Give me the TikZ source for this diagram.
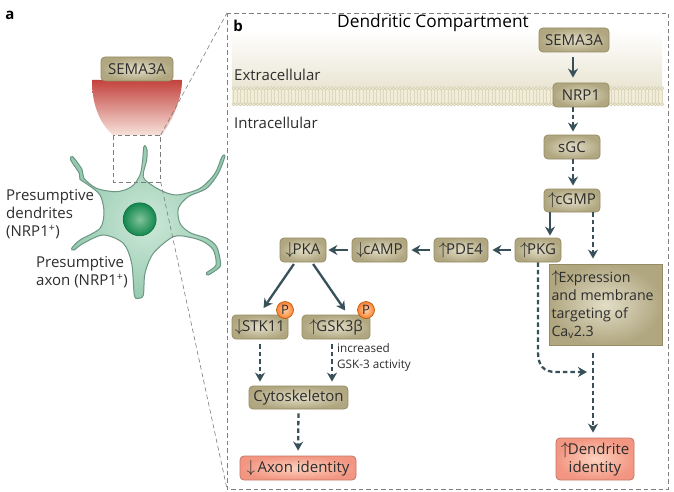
\documentclass[tikz,border=0pt]{standalone}
\usepackage{fontspec}
\setmainfont{Open Sans}
\usetikzlibrary{arrows.meta,shadings}
\definecolor{linkcol}{RGB}{55,80,90}
\definecolor{txtcol}{RGB}{45,45,45}
\definecolor{framecol}{RGB}{125,125,125}
\definecolor{oliveedge}{RGB}{150,140,100}
\definecolor{olivein}{RGB}{226,221,198}
\definecolor{oliveout}{RGB}{176,166,128}
\definecolor{salmonin}{RGB}{252,210,190}
\definecolor{salmonout}{RGB}{242,150,130}
\definecolor{neuronin}{RGB}{205,232,216}
\definecolor{neuronout}{RGB}{150,202,175}
\definecolor{neuronedge}{RGB}{108,150,132}
\definecolor{beadcol}{RGB}{240,236,216}
\definecolor{beadedge}{RGB}{200,194,158}
\definecolor{stripecol}{RGB}{222,216,190}
\tikzset{
  box/.style={draw=oliveedge,line width=.8pt,rounded corners=4pt,shading=radial,
    inner color=olivein,outer color=oliveout,inner sep=0pt,
    text=txtcol,font=\fontsize{15}{17}\selectfont},
  goal/.style={box,draw=salmonout!80!black,inner color=salmonin,outer color=salmonout},
  lab/.style={anchor=west,inner sep=0pt,text=txtcol,align=left,font=\fontsize{15}{18}\selectfont},
  solidlink/.style={draw=linkcol,line width=2.3pt,-{Stealth[length=9pt,width=10pt]}},
  dashlink/.style={solidlink,dash pattern=on 4.5pt off 3pt},
  frameline/.style={draw=framecol,line width=.6pt,dash pattern=on 4.5pt off 3pt},
  phos/.style={circle,draw=orange!70!black,line width=.6pt,minimum size=17pt,inner sep=0pt,
    shading=radial,inner color=orange!35,outer color=orange!75!red!80,text=txtcol,
    font=\fontsize{13}{15}\selectfont}
}
\newcommand{\up}{{\fontsize{18}{18}\selectfont$\uparrow$}\kern-1.5pt}
\newcommand{\down}{{\fontsize{18}{18}\selectfont$\downarrow$}\kern-1.5pt}
\begin{document}
\begin{tikzpicture}[x=1pt,y=-1pt]
\useasboundingbox (0,0) rectangle (674,492);
\fill[white] (0,0) rectangle (674,492);

% panel a: growth cone source of the cue
\shade[top color={rgb,255:red,196;green,66;blue,62},bottom color={rgb,255:red,246;green,226;blue,218}]
  (92,80) -- (182,80) .. controls (182,100) and (172,120) .. (162,135) -- (113,135)
  .. controls (98,122) and (92,102) .. (92,80) -- cycle;
\node[box,minimum width=72pt,minimum height=24pt] (semaA) at (137,69) {SEMA3A};

% panel a: neuron
\begin{scope}[x=.33333pt,y=-.33333pt,yshift=-140pt]
\path[draw=neuronedge,line width=1pt,shading=radial,inner color=neuronin,outer color=neuronout]
  plot[smooth cycle,tension=.5] coordinates {
  (436,18) (441,30) (440,60) (430,100) (435,120) (480,150) (530,165) (600,145)
  (645,100) (665,52) (675,48) (655,100) (620,145) (565,170) (535,205)
  (540,250) (570,278) (620,295) (650,320) (662,370) (655,385) (625,405) (620,398)
  (648,375) (640,330) (610,305) (570,292) (520,290) (460,340) (435,400)
  (430,465) (415,475) (403,465) (395,370) (370,310) (310,285) (250,310)
  (222,330) (215,325) (240,300) (300,265) (312,215) (300,165) (265,135)
  (240,118) (238,100) (212,60) (218,50) (246,88) (252,115) (290,145) (350,155)
  (395,140) (420,105) (428,60) (431,22)};
\end{scope}
\shade[inner color={rgb,255:red,130;green,195;blue,155},outer color={rgb,255:red,18;green,135;blue,78}]
  (139.7,219.3) circle[radius=16.5pt];
\draw[draw={rgb,255:red,20;green,110;blue,70},line width=.6pt] (139.7,219.3) circle[radius=16.5pt];

\node[lab] (dend) at (6,214) {Presumptive\\dendrites\\(NRP1\textsuperscript{+})};
\node[lab] (axn) at (36,272.5) {Presumptive\\axon (NRP1\textsuperscript{+})};
\node[anchor=center,inner sep=0pt,font=\fontsize{15}{16}\selectfont\bfseries] (pa) at (10,15) {a};

% zoom guides and frame
\draw[frameline] (113,135) rectangle (160.7,182);
\draw[frameline] (160.7,135) -- (227,13);
\draw[frameline] (160.7,182) -- (227,489);
\draw[frameline] (227,13) rectangle (668,489);

% panel b: extracellular haze and lipid bilayer
\shade[top color=white,bottom color={rgb,255:red,234;green,230;blue,212}] (232,30) rectangle (662,87);
\fill[beadcol] (232,88) rectangle (662,105);
\foreach \i in {0,...,126}{
  \draw[stripecol,line width=.5pt] ({233.7+\i*3.4},90) -- ({233.7+\i*3.4},103);
}
\foreach \i in {0,...,126}{
  \filldraw[fill=beadcol,draw=beadedge,line width=.35pt] ({233.7+\i*3.4},88.3) circle[radius=1.7pt];
  \filldraw[fill=beadcol,draw=beadedge,line width=.35pt] ({233.7+\i*3.4},104.3) circle[radius=1.7pt];
}

\node[anchor=center,inner sep=0pt,font=\fontsize{15}{16}\selectfont\bfseries] (pb) at (238,26) {b};
\node[anchor=center,inner sep=0pt,text=black,font=\fontsize{17.3}{20}\selectfont] (ttl) at (433,23) {Dendritic Compartment};
\node[lab] (ext) at (234,74.5) {Extracellular};
\node[lab] (int) at (234,123) {Intracellular};

% signalling nodes
\node[box,minimum width=70pt,minimum height=24pt] (sema) at (574,40) {SEMA3A};
\node[box,minimum width=56pt,minimum height=24pt] (nrp) at (581,95) {NRP1};
\node[box,minimum width=56pt,minimum height=24pt] (sgc) at (572,147) {sGC};
\node[box,minimum width=56pt,minimum height=23pt] (cgmp) at (572,200.5) {\up cGMP};
\node[box,minimum width=46pt,minimum height=24pt] (pkg) at (538,250) {\up PKG};
\node[box,minimum width=54pt,minimum height=24pt] (pde) at (461,250) {\up PDE4};
\node[box,minimum width=55pt,minimum height=24pt] (camp) at (379.5,250) {\down cAMP};
\node[box,minimum width=46pt,minimum height=24pt] (pka) at (303,250) {\down PKA};
\node[box,minimum width=56pt,minimum height=24pt] (stk) at (260,327) {\down STK11};
\node[box,minimum width=68pt,minimum height=24pt] (gsk) at (336,327) {\up GSK3β};
\node[phos] (pp1) at (285,310) {P};
\node[phos] (pp2) at (366,310) {P};
\node[box,minimum width=99pt,minimum height=23pt] (cyto) at (298.5,397.5) {Cytoskeleton};
\node[goal,minimum width=116pt,minimum height=24pt] (axid) at (298,468) {\down\ Axon identity};
\node[goal,align=center,minimum width=78pt,minimum height=42pt,font=\fontsize{15}{18}\selectfont] (dendid) at (595,459) {\up Dendrite\\identity};
\node[box,rounded corners=0pt,minimum width=113pt,minimum height=81pt,text width=108pt,align=flush left,
  font=\fontsize{14.2}{18}\selectfont] (expr) at (605.5,304.5)
  {\up Expression\\and membrane\\targeting of\\Ca\textsubscript{v}2.3};
\node[lab,font=\fontsize{11.7}{16}\selectfont] (gskact) at (337,357) {increased\\GSK-3 activity};

% signalling arrows
\draw[solidlink,shorten <=5pt,shorten >=5pt] ([xshift=-1pt]sema.south) -- ([xshift=-8pt]nrp.north);
\draw[dashlink,shorten >=3pt] ([xshift=-8pt]nrp.south) -- ([xshift=1pt]sgc.north);
\draw[dashlink,shorten >=3pt] ([xshift=1pt]sgc.south) -- ([xshift=1pt]cgmp.north);
\draw[solidlink,shorten >=2pt] ([xshift=-22pt]cgmp.south) -- ([xshift=12pt]pkg.north);
\draw[dashlink,shorten >=5pt] ([xshift=21pt]cgmp.south) -- ([xshift=-12.5pt]expr.north);
\draw[solidlink,shorten <=4pt,shorten >=4pt] (pkg.west) -- (pde.east);
\draw[solidlink,shorten <=4pt,shorten >=4pt] (pde.west) -- (camp.east);
\draw[solidlink,shorten <=4pt,shorten >=2pt] (camp.west) -- (pka.east);
\draw[solidlink,shorten <=2pt,shorten >=8pt] ([xshift=-8pt]pka.south) -- ([xshift=-1pt]stk.north);
\draw[solidlink,shorten <=2pt,shorten >=5pt] ([xshift=9pt]pka.south) -- ([xshift=12pt]gsk.north);
\draw[dashlink,shorten <=5pt,shorten >=4pt] (stk.south) -- ([xshift=-38.5pt]cyto.north);
\draw[dashlink,shorten <=5pt,shorten >=4pt] ([xshift=-4pt]gsk.south) -- ([xshift=33.5pt]cyto.north);
\draw[dashlink,shorten <=4pt,shorten >=5pt] (cyto.south) -- (axid.north);
\coordinate (merge) at (587,372);
\draw[dashlink] (pkg.south) -- (538,352) .. controls (538,366) and (544,372) .. (556,372) -- (merge);
\draw[dashlink,shorten <=8pt,shorten >=5pt] ([xshift=-12.5pt]expr.south) -- ([xshift=-2pt]dendid.north);
\end{tikzpicture}
\end{document}
